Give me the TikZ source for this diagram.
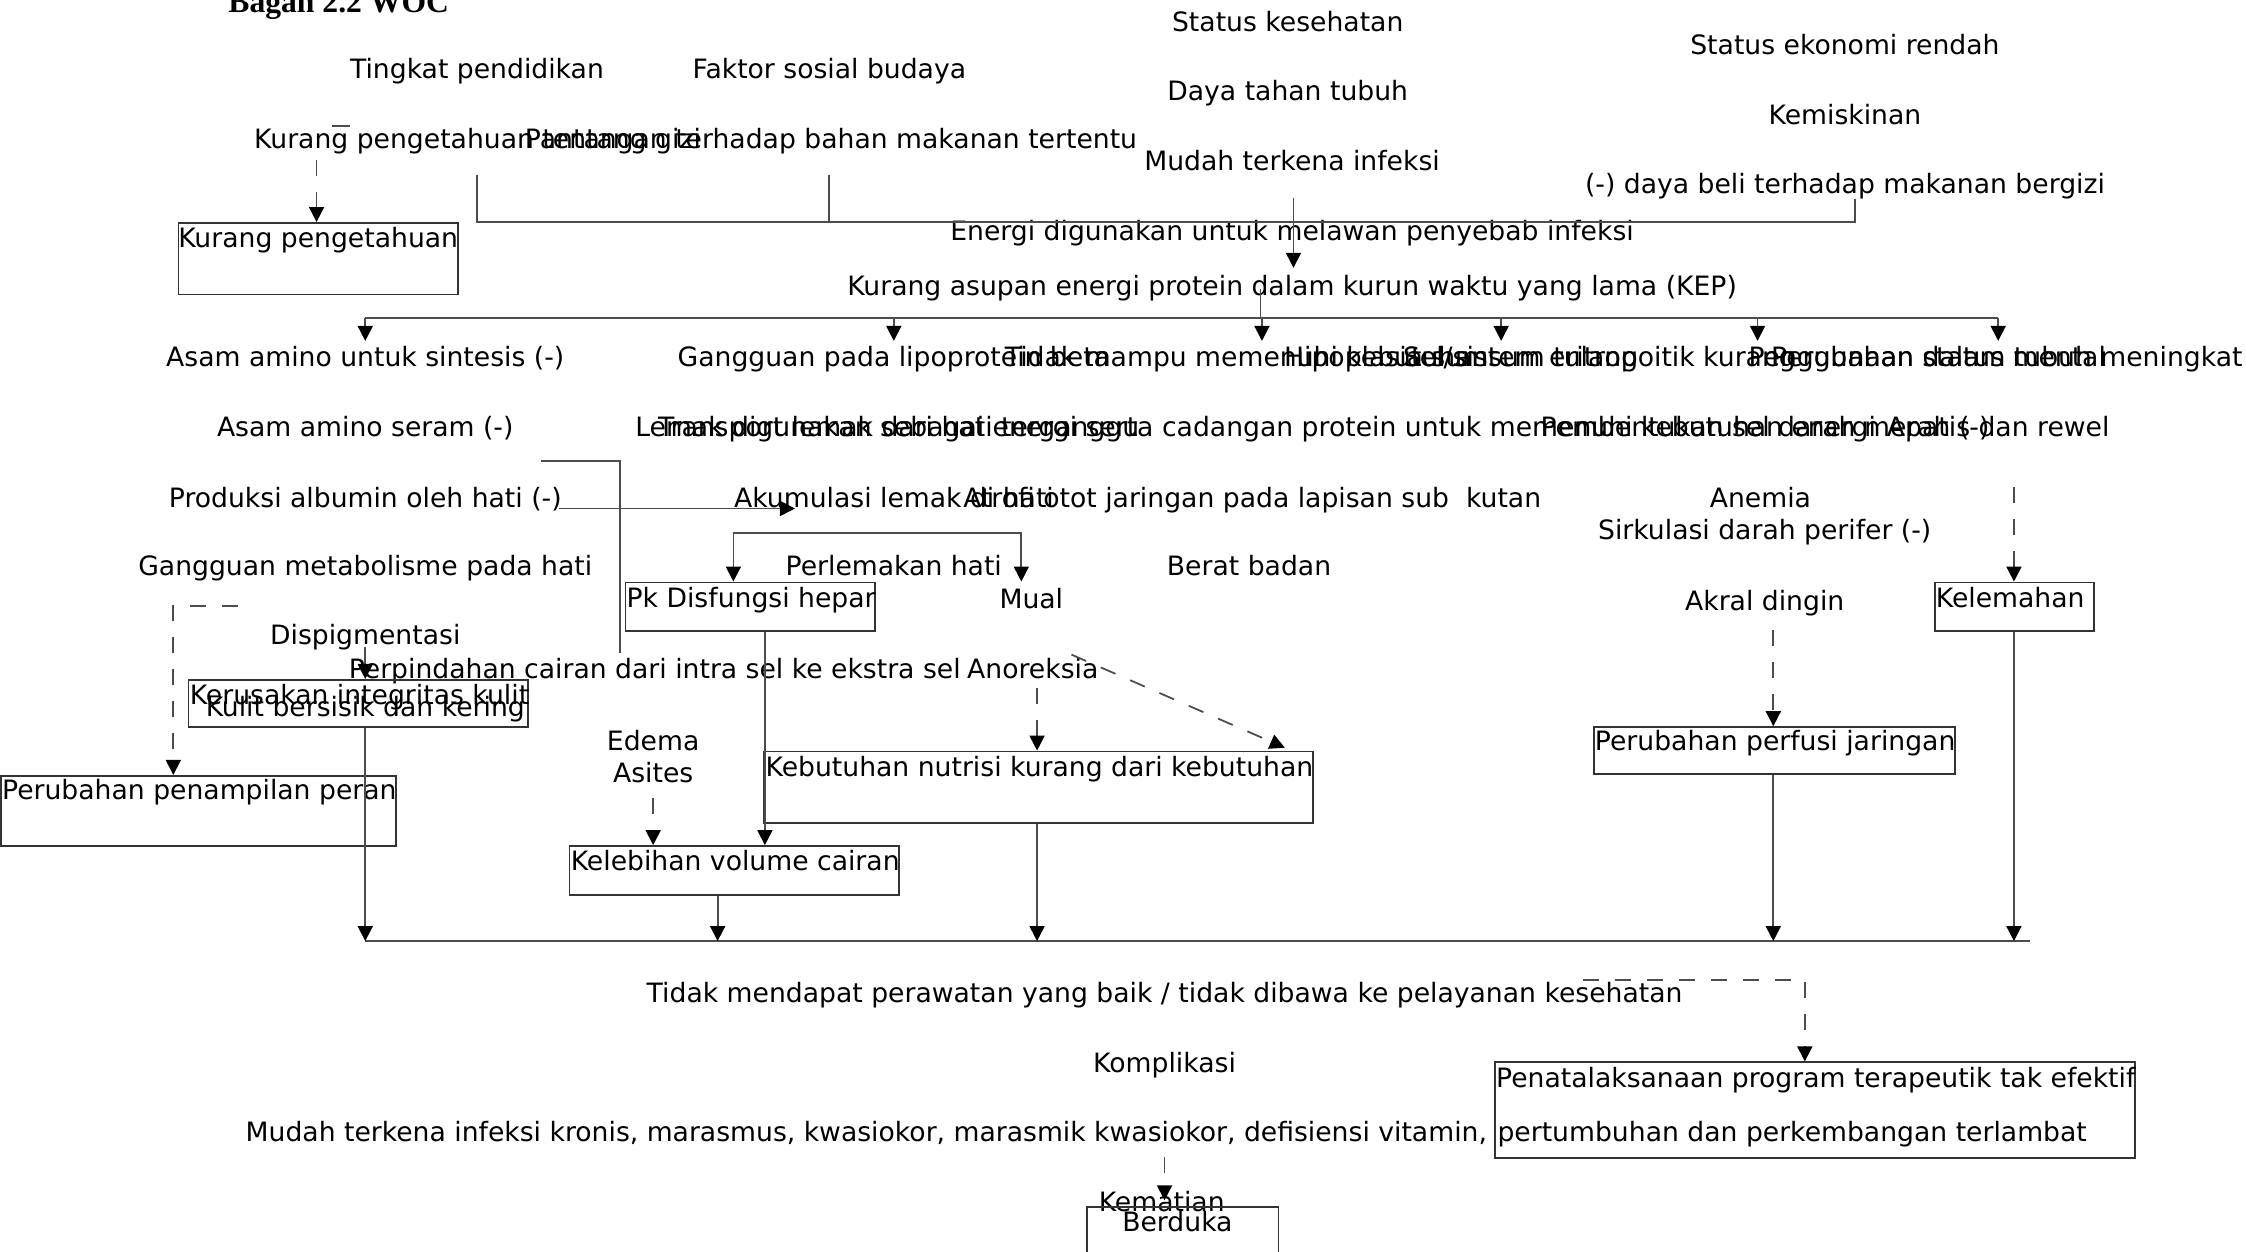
\documentclass[tikz,border=0pt]{standalone}
\usepackage{fontspec}
\setmainfont{DejaVu Sans}
\newfontfamily\titlefont{Liberation Serif}
\usetikzlibrary{arrows.meta}
\newcommand\pxu{0.014324cm}

\begin{document}
\begin{tikzpicture}[x=0.014324cm,y=-0.014324cm,
	txt/.style={inner sep=0pt,anchor=base,yshift=-0.4pt,font=\fontsize{7.58}{9}\selectfont},
	ltxt/.style={txt,anchor=base west},
	box/.style={draw=black!80,line width=0.5pt,inner sep=0pt,anchor=north west},
	ln/.style={draw=black!70,line width=0.5pt},
	arr/.style={ln,-{Triangle[length=1.5mm,width=1.5mm,color=black]}},
	dsh/.style={ln,dash pattern=on 1.6mm off 1.6mm},
	darr/.style={dsh,-{Triangle[length=1.5mm,width=1.5mm,color=black]}}]
	\useasboundingbox (0,0) rectangle (1568,874);
	
	\node[ltxt,font=\titlefont\bfseries\fontsize{9}{10}\selectfont] (ttl) at (159,8) {Bagan 2.2 WOC};
	
	% faktor penyebab
	\node[txt] (tp) at (333,54) {Tingkat pendidikan};
	\node[txt] (fsb) at (579,54) {Faktor sosial budaya};
	\node[txt] (sk) at (899,21) {Status kesehatan};
	\node[txt] (dtt) at (899,69) {Daya tahan tubuh};
	\node[txt] (mti) at (902,118) {Mudah terkena infeksi};
	\node[txt] (ser) at (1288,37) {Status ekonomi rendah};
	\node[txt] (kem) at (1288,86) {Kemiskinan};
	\node[txt] (dbl) at (1288,134) {(-) daya beli terhadap makanan bergizi};
	\node[ltxt] (kpg) at (177,103) {Kurang pengetahuan tentang gizi};
	\node[ltxt] (ptg) at (366,103) {Pantangan terhadap bahan makanan tertentu};
	\node[txt] (edi) at (902,167) {Energi digunakan untuk melawan penyebab infeksi};
	\node[txt] (kep) at (902,205) {Kurang asupan energi protein dalam kurun waktu yang lama (KEP)};
	
	\node[box,minimum width={195*\pxu},minimum height={50*\pxu}] (bkp) at (124,155) {};
	\node[ltxt] (bkpt) at (124,172) {Kurang pengetahuan};
	
	\coordinate (k0) at (232,88);
	\coordinate (k1) at (244,88);
	\coordinate (k2) at (221,112);
	\coordinate (p1) at (333,122);
	\coordinate (p2) at (579,122);
	\coordinate (p3) at (1295,139);
	\coordinate (j1) at (333,155);
	\coordinate (j2) at (579,155);
	\coordinate (j3) at (1295,155);
	\coordinate (m1) at (903,138);
	\coordinate (m2) at (903,187);
	\draw[ln] (k0) -- (k1);
	\draw[darr] (k2) -- (bkp.north -| k2);
	\draw[ln] (p1) -- (j1) -- (j3) -- (p3);
	\draw[ln] (p2) -- (j2);
	\draw[arr] (m1) -- (m2);
	
	% cabang KEP
	\coordinate (q0) at (880,202);
	\coordinate (q1) at (880,222);
	\coordinate (ql) at (255,222);
	\coordinate (qr) at (1395,222);
	\draw[ln] (q0) -- (q1);
	\draw[ln] (ql) -- (qr);
	\foreach \n/\x in {a/255,b/624,c/881,d/1048,e/1227,f/1395}{
		\coordinate (t\n) at (\x,222);
		\coordinate (h\n) at (\x,238);
		\draw[arr] (t\n) -- (h\n);
	}
	
	\node[txt] (aas) at (255,255) {Asam amino untuk sintesis (-)};
	\node[txt] (glb) at (624,255) {Gangguan pada lipoprotein beta};
	\node[ltxt] (tmm) at (701,255) {Tidak mampu memenuhi kebutuhan};
	\node[ltxt] (hst) at (896,255) {Hipoplasia sumsum tulang};
	\node[ltxt] (sse) at (979,255) {Sel/sistem eritropoitik kurang};
	\node[ltxt] (psm) at (1236,255) {Perubahan status mental};
	\node[txt,anchor=base east] (pdt) at (1566,255) {Penggunaan dalam tubuh meningkat};
	
	\node[txt] (ams) at (255,304) {Asam amino seram (-)};
	\node[ltxt] (ldg) at (443,304) {Lemak digunakan sebagai energi serta cadangan protein untuk memenuhi kebutuhan energi};
	\node[ltxt] (tlh) at (459,304) {Transport lemak dari hati terganggu};
	\node[ltxt] (psd) at (1075,304) {Pembentukan sel darah merah (-)};
	\node[txt] (adr) at (1395,304) {Apatis dan rewel};
	
	\node[txt] (pah) at (255,353) {Produksi albumin oleh hati (-)};
	\node[ltxt] (alh) at (512,353) {Akumulasi lemak di hati};
	\node[ltxt] (aoj) at (672,353) {Atrofi otot jaringan pada lapisan sub\ \ kutan};
	\node[txt] (ane) at (1229,353) {Anemia};
	\node[txt] (sdp) at (1232,376) {Sirkulasi darah perifer (-)};
	
	\node[txt] (gmh) at (255,401) {Gangguan metabolisme pada hati};
	\node[txt] (plh) at (624,401) {Perlemakan hati};
	\node[txt] (bbd) at (872,401) {Berat badan};
	\node[txt] (mual) at (720,424) {Mual};
	\node[txt] (akd) at (1232,425) {Akral dingin};
	\node[txt] (dsp) at (255,449) {Dispigmentasi};
	\node[ltxt] (pci) at (243,473) {Perpindahan cairan dari intra sel ke ekstra sel};
	\node[txt] (anr) at (721,473) {Anoreksia};
	\node[txt] (ede) at (456,523) {Edema};
	\node[txt] (ast) at (456,545) {Asites};
	
	% diagnosa
	\node[box,minimum width={174*\pxu},minimum height={34*\pxu}] (bpk) at (436,406) {};
	\node[ltxt] (bpkt) at (437,423) {Pk Disfungsi hepar};
	\node[box,minimum width={111*\pxu},minimum height={34*\pxu}] (bkl) at (1350,406) {};
	\node[ltxt] (bklt) at (1351,423) {Kelemahan};
	\node[box,minimum width={237*\pxu},minimum height={33*\pxu}] (bki) at (131,474) {};
	\node[ltxt] (bkit) at (132,491) {Kerusakan integritas kulit};
	\node[txt] (kbk) at (255,499) {Kulit bersisik dan kering};
	\node[box,minimum width={276*\pxu},minimum height={49*\pxu}] (bpp) at (0,541) {};
	\node[ltxt] (bppt) at (1,557) {Perubahan penampilan peran};
	\node[box,minimum width={383*\pxu},minimum height={50*\pxu}] (bkn) at (533,524) {};
	\node[ltxt] (bknt) at (534,541) {Kebutuhan nutrisi kurang dari kebutuhan};
	\node[box,minimum width={230*\pxu},minimum height={34*\pxu}] (bkv) at (397,590) {};
	\node[ltxt] (bkvt) at (398,607) {Kelebihan volume cairan};
	\node[box,minimum width={252*\pxu},minimum height={33*\pxu}] (bpf) at (1112,507) {};
	\node[ltxt] (bpft) at (1113,523) {Perubahan perfusi jaringan};
	
	\coordinate (s1) at (378,322);
	\coordinate (s2) at (433,322);
	\coordinate (s3) at (433,456);
	\draw[ln] (s1) -- (s2) -- (s3);
	\coordinate (r1) at (390,355);
	\coordinate (r2) at (555,355);
	\draw[arr] (r1) -- (r2);
	\coordinate (u1) at (512,372);
	\coordinate (u2) at (713,372);
	\coordinate (u3) at (713,406);
	\draw[arr] (u1) -- (u2) -- (u3);
	\draw[arr] (u1) -- (bpk.north -| u1);
	\coordinate (g1) at (166,423);
	\coordinate (g2) at (121,423);
	\draw[darr] (g1) -- (g2) -- (bpp.north -| g2);
	\coordinate (d1) at (255,452);
	\draw[arr] (d1) -- (bki.north -| d1);
	\coordinate (e1) at (456,557);
	\draw[darr] (e1) -- (bkv.north -| e1);
	\draw[arr] (bpk.south -| 534,0) -- (bkv.north -| 534,0);
	\coordinate (n1) at (724,480);
	\draw[darr] (n1) -- (bkn.north -| n1);
	\coordinate (n2) at (748,457);
	\coordinate (n3) at (897,522);
	\draw[darr] (n2) -- (n3);
	\coordinate (a1) at (1238,440);
	\draw[darr] (a1) -- (bpf.north -| a1);
	\coordinate (w1) at (1406,340);
	\draw[darr] (w1) -- (bkl.north -| w1);
	
	% pertemuan
	\coordinate (b0) at (255,657);
	\coordinate (b1) at (1417,657);
	\draw[ln] (b0) -- (b1);
	\draw[arr] (bki.south -| b0) -- (b0);
	\draw[arr] (bkv.south -| 501,0) -- (b0 -| 501,0);
	\draw[arr] (bkn.south -| 724,0) -- (b0 -| 724,0);
	\draw[arr] (bpf.south -| 1238,0) -- (b0 -| 1238,0);
	\draw[arr] (bkl.south -| 1406,0) -- (b0 -| 1406,0);
	
	% akibat
	\node[txt] (tmp) at (813,699) {Tidak mendapat perawatan yang baik / tidak dibawa ke pelayanan kesehatan};
	\node[txt] (kom) at (813,748) {Komplikasi};
	\node[ltxt] (mtk) at (171,796) {Mudah terkena infeksi kronis, marasmus, kwasiokor, marasmik kwasiokor, defisiensi vitamin,};
	\node[box,minimum width={447*\pxu},minimum height={67*\pxu}] (bpt) at (1043,741) {};
	\node[ltxt] (bptt) at (1044,758) {Penatalaksanaan program terapeutik tak efektif};
	\node[ltxt] (ppt) at (1045,796) {pertumbuhan dan perkembangan terlambat};
	\node[txt] (kmt) at (811,845) {Kematian};
	\node[box,minimum width={134*\pxu},minimum height={40*\pxu}] (bbr) at (758,842) {};
	\node[txt] (bbrt) at (822,859) {Berduka};
	
	\coordinate (f1) at (1105,684);
	\coordinate (f2) at (1260,684);
	\draw[darr] (f1) -- (f2) -- (bpt.north -| f2);
	\coordinate (z1) at (813,808);
	\coordinate (z2) at (813,838);
	\draw[darr] (z1) -- (z2);
\end{tikzpicture}
\end{document}
